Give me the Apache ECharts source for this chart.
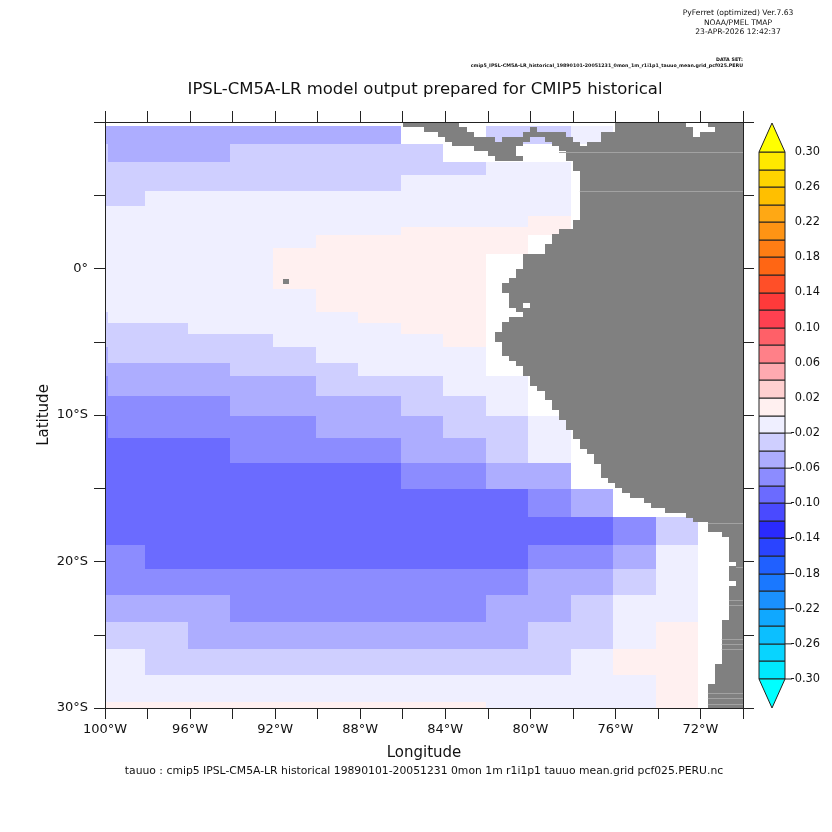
<!DOCTYPE html>
<html><head><meta charset="utf-8">
<style>html,body{margin:0;padding:0;background:#fff}#c{width:832px;height:832px}</style>
<script src="https://cdn.jsdelivr.net/npm/echarts@6/dist/echarts.min.js"></script>
</head><body><div id="c"></div>
<script>
// level mid-values (N/m2); _ = no model data (white)
const p=.01,a=-.01,b=-.03,c=-.05,d=-.07,e=-.09,_=null;
const lonEdges=[-100,-98.1,-96.1,-94.1,-92.1,-90.1,-88.1,-86.1,-84.1,-82.1,-80.1,-78.1,-76.1,-74.1,-72.1];
const latEdges=[9.76,8.53,7.30,6.35,5.32,4.30,3.55,2.80,2.32,1.37,0.96,-1.43,-2.94,-3.69,-4.44,-5.39,-6.42,-7.37,-8.67,-10.10,-11.60,-13.31,-15.02,-16.93,-18.84,-20.48,-22.32,-24.16,-26.00,-27.78,-29.56,-30];
const tauuo=[
[c,c,c,c,c,c,c,_,_,b,b,a,_,_],
[c,c,c,b,b,b,b,b,_,_,_,_,_,_],
[b,b,b,b,b,b,b,b,b,a,a,_,_,_],
[b,b,b,b,b,b,b,a,a,a,a,_,_,_],
[b,a,a,a,a,a,a,a,a,a,a,_,_,_],
[a,a,a,a,a,a,a,a,a,a,a,_,_,_],
[a,a,a,a,a,a,a,a,a,a,p,_,_,_],
[a,a,a,a,a,a,a,p,p,p,p,_,_,_],
[a,a,a,a,a,p,p,p,p,p,_,_,_,_],
[a,a,a,a,p,p,p,p,p,p,_,_,_,_],
[a,a,a,a,p,p,p,p,p,_,_,_,_,_],
[a,a,a,a,a,p,p,p,p,_,_,_,_,_],
[a,a,a,a,a,a,p,p,p,_,_,_,_,_],
[b,b,a,a,a,a,a,p,p,_,_,_,_,_],
[b,b,b,b,a,a,a,a,p,_,_,_,_,_],
[b,b,b,b,b,a,a,a,a,_,_,_,_,_],
[c,c,c,b,b,b,a,a,a,_,_,_,_,_],
[c,c,c,c,c,b,b,b,a,a,_,_,_,_],
[d,d,d,c,c,c,c,b,b,a,_,_,_,_],
[d,d,d,d,d,c,c,c,b,b,a,_,_,_],
[e,e,e,d,d,d,d,c,c,b,a,_,_,_],
[e,e,e,e,e,e,e,d,d,c,c,_,_,_],
[e,e,e,e,e,e,e,e,e,e,d,c,_,_],
[e,e,e,e,e,e,e,e,e,e,e,e,d,b],
[d,e,e,e,e,e,e,e,e,e,d,d,c,a],
[d,d,d,d,d,d,d,d,d,d,c,c,b,a],
[c,c,c,d,d,d,d,d,d,c,c,b,a,a],
[b,b,c,c,c,c,c,c,c,c,b,b,a,p],
[a,b,b,b,b,b,b,b,b,b,b,a,p,p],
[a,a,a,a,a,a,a,a,a,a,a,a,a,p],
[p,p,p,p,p,p,p,p,p,a,a,a,a,p]];
// narrow strip against the left axis: [lat top, lat bottom, value]
const leftStrip=[[8.53,7.30,b],[-2.94,-3.69,b],[-5.39,-6.42,c],[-7.37,-8.67,d],[-10.10,-11.60,e]];
const leftStripLon=[-100,-99.88];
// isolated land cell in the open ocean: [lon from, lon to, lat top, lat bottom]
const landSpeck=[-91.65,-91.35,-0.7,-1.05];
// land mask on a 1/3 degree grid: [row from, row to, column from, column to]
const landRuns=[
[0,1,42,50],[0,1,72,82],[0,1,85,90],
[1,2,45,51],[1,2,60,61],[1,2,72,83],[1,2,86,90],
[2,3,47,52],[2,3,59,65],[2,3,70,83],[2,3,84,90],
[3,4,48,55],[3,4,56,60],[3,4,62,66],[3,4,70,90],
[4,5,49,59],[4,5,63,67],[4,5,68,90],
[5,6,52,58],[5,6,64,90],
[6,7,54,58],[6,7,65,90],
[7,8,55,59],[7,8,65,90],
[8,10,66,90],[10,20,67,90],[20,22,66,90],[22,23,64,90],[23,25,63,90],[25,27,62,90],
[27,30,59,90],[30,32,58,90],[32,33,57,90],[33,35,56,90],[35,37,57,90],
[37,38,57,59],[37,38,60,90],
[38,39,58,90],[39,40,59,90],[40,41,57,90],[41,43,56,90],[43,45,55,90],[45,48,56,90],
[48,49,57,90],[49,50,58,90],[50,52,59,90],[52,54,60,90],[54,55,61,90],[55,57,62,90],
[57,59,63,90],[59,61,64,90],[61,63,65,90],[63,65,66,90],[65,67,67,90],[67,68,68,90],
[68,70,69,90],[70,73,70,90],[73,74,71,90],[74,75,72,90],[75,76,73,90],[76,77,74,90],
[77,78,76,90],[78,79,77,90],[79,80,79,90],[80,81,82,90],[81,82,83,90],[82,84,85,90],
[84,85,87,90],[85,90,88,90],[90,91,89,90],[91,94,88,90],[94,95,89,90],[95,102,88,90],
[102,111,87,90],[111,115,86,90],[115,120,85,90]];
// thin lighter seams across the land: [lat, lon from]
const landSeams=[[7.95,-78.65],[5.29,-77.67],[-17.34,-71.65],[-20.39,-70.33],[-22.66,-70.66],[-23.0,-70.66],[-25.3,-71.0],[-25.66,-71.0],[-26.0,-71.0],[-29.0,-71.65],[-29.35,-71.65],[-29.7,-71.65]];
const landRowDeg=1/3, landColDeg=1/3, landTop=10, landLeft=-100;
// colour bar
const levelEdges=[-.30,-.28,-.26,-.24,-.22,-.20,-.18,-.16,-.14,-.12,-.10,-.08,-.06,-.04,-.02,0,.02,.04,.06,.08,.10,.12,.14,.16,.18,.20,.22,.24,.26,.28,.30];
const levelColors=['#00e9ff','#08d4ff','#0cbfff','#10a8ff','#1a90ff','#1a78ff','#2060ff','#2a44ff','#2a2aff','#4a4aff','#6b6bff','#8c8cff','#adadff','#cfcfff','#efefff',
'#fff0f0','#ffd0d0','#ffaab0','#ff8088','#ff6068','#ff4050','#ff3a3a','#ff4f28','#ff6614','#ff7d14','#ff9414','#ffa814','#ffbf00','#ffd400','#ffe900'];
const overColor='#ffff00', underColor='#00ffff';
const barTickLabels=['-0.30','-0.26','-0.22','-0.18','-0.14','-0.10','-0.06','-0.02','0.02','0.06','0.10','0.14','0.18','0.22','0.26','0.30'];
const lonTickLabels=['100°W','96°W','92°W','88°W','84°W','80°W','76°W','72°W'];
const latTickLabels=['30°S','20°S','10°S','0°'];
const titleText='IPSL-CM5A-LR model output prepared for CMIP5 historical';
const headerLines=['PyFerret (optimized) Ver.7.63','NOAA/PMEL TMAP','23-APR-2026 12:42:37'];
const dataSetLines=['DATA SET:','cmip5_IPSL-CM5A-LR_historical_19890101-20051231_0mon_1m_r1i1p1_tauuo_mean.grid_pcf025.PERU'];
const footerText='tauuo : cmip5 IPSL-CM5A-LR historical 19890101-20051231 0mon 1m r1i1p1 tauuo mean.grid pcf025.PERU.nc';

const FONT='DejaVu Sans', INK='#222';
function colorOf(v){let i=0;while(i<levelColors.length-1&&v>=levelEdges[i+1])i++;return levelColors[i];}
const fieldCells=[];
tauuo.forEach((row,r)=>row.forEach((v,k)=>{ if(v!==null) fieldCells.push([lonEdges[k],lonEdges[k+1],latEdges[r],latEdges[r+1],v]); }));
leftStrip.forEach(s=>fieldCells.push([leftStripLon[0],leftStripLon[1],s[0],s[1],s[2]]));
const landCells=landRuns.map(l=>[landLeft+l[2]*landColDeg,landLeft+l[3]*landColDeg,landTop-l[0]*landRowDeg,landTop-l[1]*landRowDeg]);
landCells.push(landSpeck);
const seamCells=landSeams.map(s=>[s[1],-70,s[0]]);
const barCells=levelColors.map((col,i)=>[0,1,i,i+1,levelEdges[i]+.01]);

function rectItem(params,api,fill){
  const p0=api.coord([api.value(0),api.value(2)]),p1=api.coord([api.value(1),api.value(3)]);
  const x=Math.round(p0[0]),x1=Math.round(p1[0]),y0=Math.round(Math.min(p0[1],p1[1])),y1=Math.round(Math.max(p0[1],p1[1]));
  return {type:'rect',shape:{x,y:y0,width:Math.max(1,x1-x),height:Math.max(1,y1-y0)},style:{fill}};
}
const baseAxis={axisLine:{show:true,onZero:false,lineStyle:{color:INK,width:1}},axisTick:{show:true,length:11,lineStyle:{color:INK,width:1}},splitLine:{show:false},z:6};
const labelStyle={fontFamily:FONT,fontSize:13,color:'#111'};
const nameStyle={fontFamily:FONT,fontSize:15,color:'#111'};
const option={
  animation:false,backgroundColor:'#fff',
  title:{text:titleText,left:420,top:76,textAlign:'center',textStyle:{fontFamily:FONT,fontSize:16.5,fontWeight:'normal',color:'#111'}},
  grid:[{left:105,right:89,top:122,bottom:124,containLabel:false},{left:759,right:47,top:152,bottom:153,containLabel:false}],
  xAxis:[
    Object.assign({},baseAxis,{type:'value',gridIndex:0,position:'bottom',min:-100,max:-70,interval:2,name:'Longitude',nameLocation:'middle',nameGap:38,nameTextStyle:nameStyle,
      axisLabel:Object.assign({},labelStyle,{margin:15,formatter:v=>((v+100)%4===0&&lonTickLabels[(v+100)/4])||''})}),
    Object.assign({},baseAxis,{type:'value',gridIndex:0,position:'top',min:-100,max:-70,interval:2,axisLabel:{show:false}}),
    {type:'value',gridIndex:1,min:0,max:1,show:false}
  ],
  yAxis:[
    Object.assign({},baseAxis,{type:'value',gridIndex:0,position:'left',min:-30,max:10,interval:5,name:'Latitude',nameLocation:'middle',nameRotate:90,nameGap:53,nameMoveOverlap:false,nameTextStyle:nameStyle,
      axisLabel:Object.assign({},labelStyle,{margin:17,formatter:v=>((v+30)%10===0&&latTickLabels[(v+30)/10])||''})}),
    Object.assign({},baseAxis,{type:'value',gridIndex:0,position:'right',min:-30,max:10,interval:5,axisLabel:{show:false}}),
    {type:'value',gridIndex:1,position:'right',min:0,max:30,interval:2,axisLine:{show:false},axisTick:{show:false},splitLine:{show:false},
      axisLabel:Object.assign({},labelStyle,{fontSize:11.4,align:'right',margin:35,padding:[2,0,0,0],formatter:v=>barTickLabels[v/2]})}
  ],
  series:[
    {type:'custom',xAxisIndex:0,yAxisIndex:0,clip:true,z:2,silent:true,data:fieldCells,encode:{x:[0,1],y:[2,3]},
      renderItem:(pa,api)=>rectItem(pa,api,colorOf(api.value(4)))},
    {type:'custom',xAxisIndex:0,yAxisIndex:0,clip:true,z:3,silent:true,data:landCells,encode:{x:[0,1],y:[2,3]},
      renderItem:(pa,api)=>rectItem(pa,api,'#808080')},
    {type:'custom',xAxisIndex:0,yAxisIndex:0,clip:true,z:4,silent:true,data:seamCells,encode:{x:[0,1],y:[2]},
      renderItem:(pa,api)=>{const p0=api.coord([api.value(0),api.value(2)]),p1=api.coord([api.value(1),api.value(2)]);
        const y=Math.round(p0[1])+.5;return {type:'line',shape:{x1:p0[0],y1:y,x2:p1[0],y2:y},style:{stroke:'#a2a2a2',lineWidth:1}};}},
    {type:'custom',xAxisIndex:2,yAxisIndex:2,clip:false,z:5,silent:true,data:barCells,encode:{x:[0,1],y:[2,3]},
      renderItem:(pa,api)=>{const it=rectItem(pa,api,colorOf(api.value(4)));it.style.stroke=INK;it.style.lineWidth=1;
        const children=[it];
        const idx=api.value(2);
        if(idx<15&&idx%2===0){const q=api.coord([1,idx]);children.push({type:'line',shape:{x1:q[0],y1:q[1],x2:q[0]+7,y2:q[1]},style:{stroke:'#222',lineWidth:1}});}
        return {type:'group',children};}},
    {type:'custom',xAxisIndex:2,yAxisIndex:2,clip:false,z:5,silent:true,data:[[0,1,30,31.65,overColor],[0,1,0,-1.65,underColor]],encode:{x:[0,1],y:[2,3]},
      renderItem:(pa,api)=>{const l=api.coord([api.value(0),api.value(2)]),r=api.coord([api.value(1),api.value(2)]),t=api.coord([.5,api.value(3)]);
        return {type:'polygon',shape:{points:[l,r,t]},style:{fill:api.value(4),stroke:INK,lineWidth:1}};},
      dimensions:[null,null,null,null,{name:'c',type:'ordinal'}]}
  ],
  graphic:[
    ...headerLines.map((t,i)=>({type:'text',x:738,y:[13,23,32][i],style:{text:t,fontFamily:FONT,fontSize:7.6,fill:'#111',textAlign:'center',textVerticalAlign:'middle'}})),
    {type:'text',x:743,y:60,style:{text:dataSetLines[0],fontFamily:FONT,fontSize:4.75,fontWeight:'bold',fill:'#111',textAlign:'right',textVerticalAlign:'middle'}},
    {type:'text',x:743,y:66,style:{text:dataSetLines[1],fontFamily:FONT,fontSize:4.75,fontWeight:'bold',fill:'#111',textAlign:'right',textVerticalAlign:'middle'}},
    {type:'text',x:424,y:771,style:{text:footerText,fontFamily:FONT,fontSize:10.8,fill:'#111',textAlign:'center',textVerticalAlign:'middle'}}
  ]
};
echarts.init(document.getElementById('c'),null,{renderer:'canvas'}).setOption(option);
</script></body></html>
